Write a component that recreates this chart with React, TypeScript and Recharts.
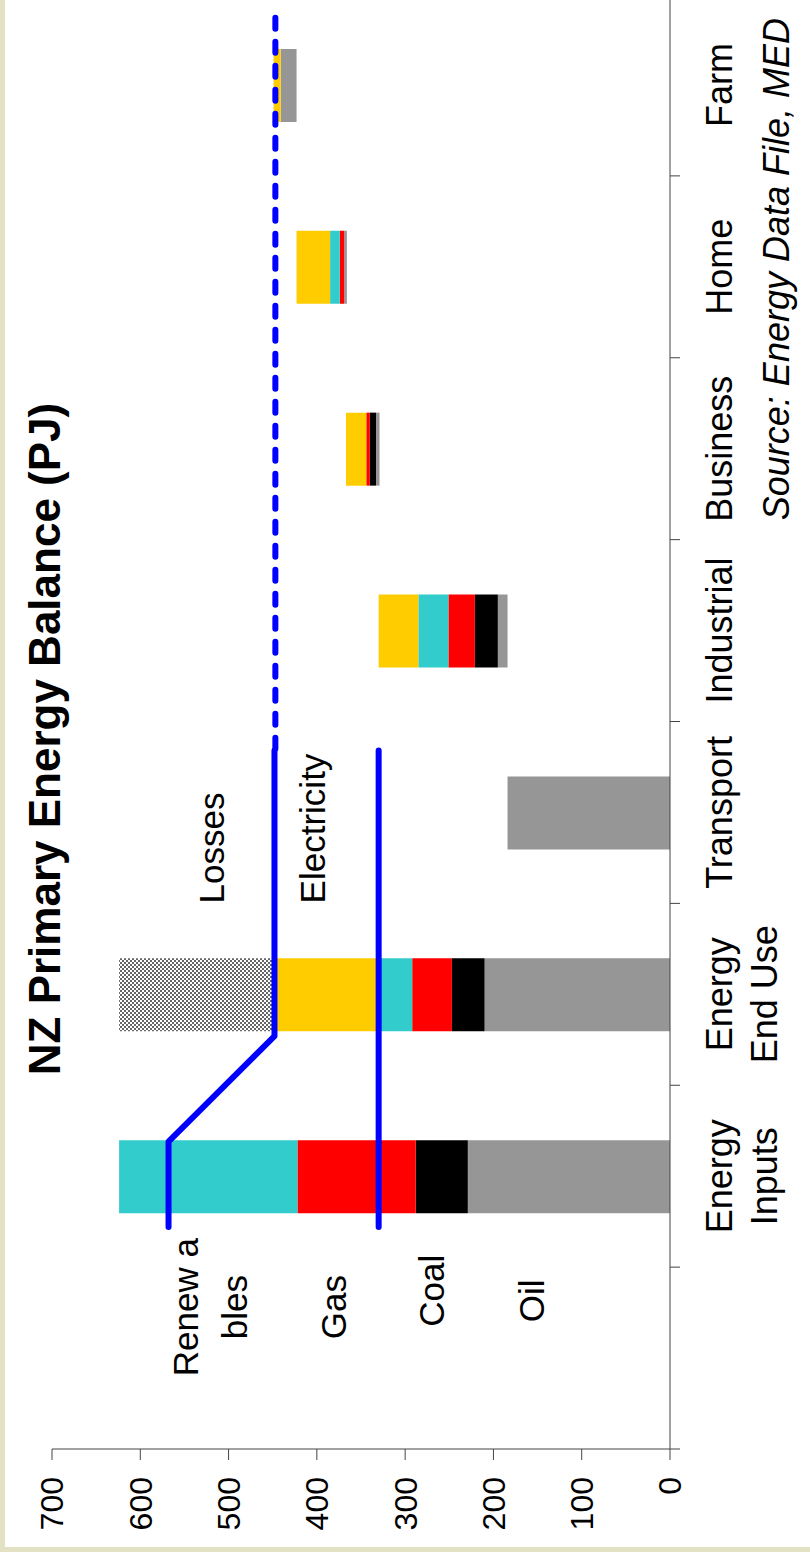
import { Bar, ComposedChart, Scatter, XAxis, YAxis } from 'recharts';

// categories (first band is empty, it holds the fuel labels)
const categories = ['', 'Energy\nInputs', 'Energy\nEnd Use', 'Transport', 'Industrial', 'Business', 'Home', 'Farm'];

// PJ, stacked from the floor up
const base = [0, 0, 0, 0, 184, 329, 366, 423];
const oil = [0, 229, 210, 184, 11, 4, 3, 18];
const coal = [0, 59, 37, 0, 26, 7, 0, 0];
const gas = [0, 134, 45, 0, 30, 4, 5, 0];
const renewables = [0, 202, 40, 0, 34, 0, 11, 0];
const electricity = [0, 0, 118, 0, 45, 23, 38, 8];
const losses = [0, 0, 174, 0, 0, 0, 0, 0];

const valueTicks = [0, 100, 200, 300, 400, 500, 600, 700];

// connector lines, x in category units
const renewablesLine = [
    { x: 1.22, y: 568 },
    { x: 1.69, y: 568 },
    { x: 2.27, y: 448 },
    { x: 3.84, y: 448 },
];
const fossilLine = [
    { x: 1.22, y: 330 },
    { x: 3.84, y: 330 },
];
const electricityLine = [
    { x: 3.85, y: 447 },
    { x: 7.88, y: 447 },
];

// text boxes
const noteText = ['Renew a', 'bles', 'Gas', 'Coal', 'Oil', 'Losses', 'Electricity'];
const noteX = [0.78, 0.78, 0.78, 0.87, 0.815, 3.0, 3.0];
const noteY = [549, 493, 381, 270, 157, 519, 405];
const noteAnchor = ['middle', 'middle', 'middle', 'middle', 'middle', 'start', 'start'];

const FONT = '"Liberation Sans", Arial, sans-serif';
const AXIS = '#444';
const BLUE = '#0000ff';
const BEIGE = '#e2e1c3';

const CategoryTick = (props: any) => {
    const { x, y, payload } = props;
    const v = payload.value;
    if (Number.isInteger(v)) {
        return <line x1={x} x2={x} y1={y} y2={y + 10} stroke={AXIS} />;
    }
    const lines = categories[Math.floor(v)].split('\n');
    return (
        <text x={x} y={y} textAnchor="middle" fontSize={36} fontFamily={FONT} fill="#000">
            {lines.map((l, i) => (
                <tspan key={i} x={x} dy={i === 0 ? 62 : 45}>{l}</tspan>
            ))}
        </text>
    );
};

const NoteShape = (p: any) => (
    <text x={p.cx} y={p.cy} textAnchor={p.payload.anchor} dominantBaseline="central"
        fontSize={35} fontFamily={FONT} fill="#000">
        {p.payload.text}
    </text>
);

export default function App() {
    const rows = categories.map((name, i) => ({
        name,
        base: base[i],
        oil: oil[i],
        coal: coal[i],
        gas: gas[i],
        renewables: renewables[i],
        electricity: electricity[i],
        losses: losses[i],
    }));
    const notes = noteText.map((text, i) => ({ x: noteX[i], y: noteY[i], text, anchor: noteAnchor[i] }));
    const numTicks = categories.flatMap((_, i) => [i, i + 0.5]).concat(categories.length);
    const line = { stroke: BLUE, strokeWidth: 6, strokeLinecap: 'round' as const, strokeLinejoin: 'round' as const };

    return (
        <div style={{ position: 'absolute', left: 0, top: 0, width: 810, height: 1552, overflow: 'hidden', background: '#fff' }}>
            <div style={{
                position: 'absolute', left: 0, top: 0, width: 1560, height: 810,
                transformOrigin: '0 0', transform: 'translate(0px, 1552px) rotate(-90deg)',
            }}>
                <ComposedChart width={1560} height={810} data={rows} barSize={73}
                    margin={{ top: 52, right: 2, left: 0, bottom: 0 }}>
                    <defs>
                        <pattern id="lossPattern" width="4" height="4" patternUnits="userSpaceOnUse">
                            <rect width="4" height="4" fill="#fff" />
                            <rect width="2" height="2" fill="#666" />
                            <rect x="2" y="2" width="2" height="2" fill="#666" />
                        </pattern>
                    </defs>
                    <XAxis xAxisId="num" type="number" dataKey="x" domain={[0, categories.length]} allowDataOverflow
                        ticks={numTicks} interval={0} tickSize={0} tickMargin={0} tickLine={false}
                        tick={<CategoryTick />} height={140} stroke={AXIS} />
                    <XAxis dataKey="name" hide height={0} />
                    <YAxis domain={[0, 700]} ticks={valueTicks} interval={0} width={103}
                        tickSize={11} tickMargin={17} stroke={AXIS}
                        tick={{ fontSize: 32, fontFamily: FONT, fill: '#000' }} />
                    <YAxis yAxisId="num" type="number" dataKey="y" domain={[0, 700]} allowDataOverflow hide width={0} />
                    <Bar dataKey="base" stackId="a" fill="none" isAnimationActive={false} />
                    <Bar dataKey="oil" stackId="a" fill="#969696" isAnimationActive={false} />
                    <Bar dataKey="coal" stackId="a" fill="#000000" isAnimationActive={false} />
                    <Bar dataKey="gas" stackId="a" fill="#ff0000" isAnimationActive={false} />
                    <Bar dataKey="renewables" stackId="a" fill="#33cccc" isAnimationActive={false} />
                    <Bar dataKey="electricity" stackId="a" fill="#ffcc00" isAnimationActive={false} />
                    <Bar dataKey="losses" stackId="a" fill="url(#lossPattern)" isAnimationActive={false} />
                    <Scatter xAxisId="num" yAxisId="num" data={renewablesLine} fill={BLUE} line={line}
                        shape={() => <g />} isAnimationActive={false} />
                    <Scatter xAxisId="num" yAxisId="num" data={fossilLine} fill={BLUE} line={line}
                        shape={() => <g />} isAnimationActive={false} />
                    <Scatter xAxisId="num" yAxisId="num" data={electricityLine} fill={BLUE}
                        line={{ ...line, strokeDasharray: '11 13' }}
                        shape={() => <g />} isAnimationActive={false} />
                    <Scatter xAxisId="num" yAxisId="num" data={notes} shape={<NoteShape />} isAnimationActive={false} />
                </ComposedChart>
                <svg width={1560} height={810} style={{ position: 'absolute', left: 0, top: 0, pointerEvents: 'none' }}>
                    <text x={813} y={60} textAnchor="middle" fontSize={44} fontWeight="bold" fontFamily={FONT} fill="#000">
                        NZ Primary Energy Balance (PJ)
                    </text>
                    <text x={1534} y={789} textAnchor="end" fontSize={36} fontStyle="italic" fontFamily={FONT} fill="#000">
                        Source: Energy Data File, MED
                    </text>
                </svg>
            </div>
            <div style={{ position: 'absolute', left: 0, top: 0, width: 5, height: 1552, background: BEIGE }} />
            <div style={{ position: 'absolute', left: 0, bottom: 0, width: 810, height: 5, background: BEIGE }} />
        </div>
    );
}
